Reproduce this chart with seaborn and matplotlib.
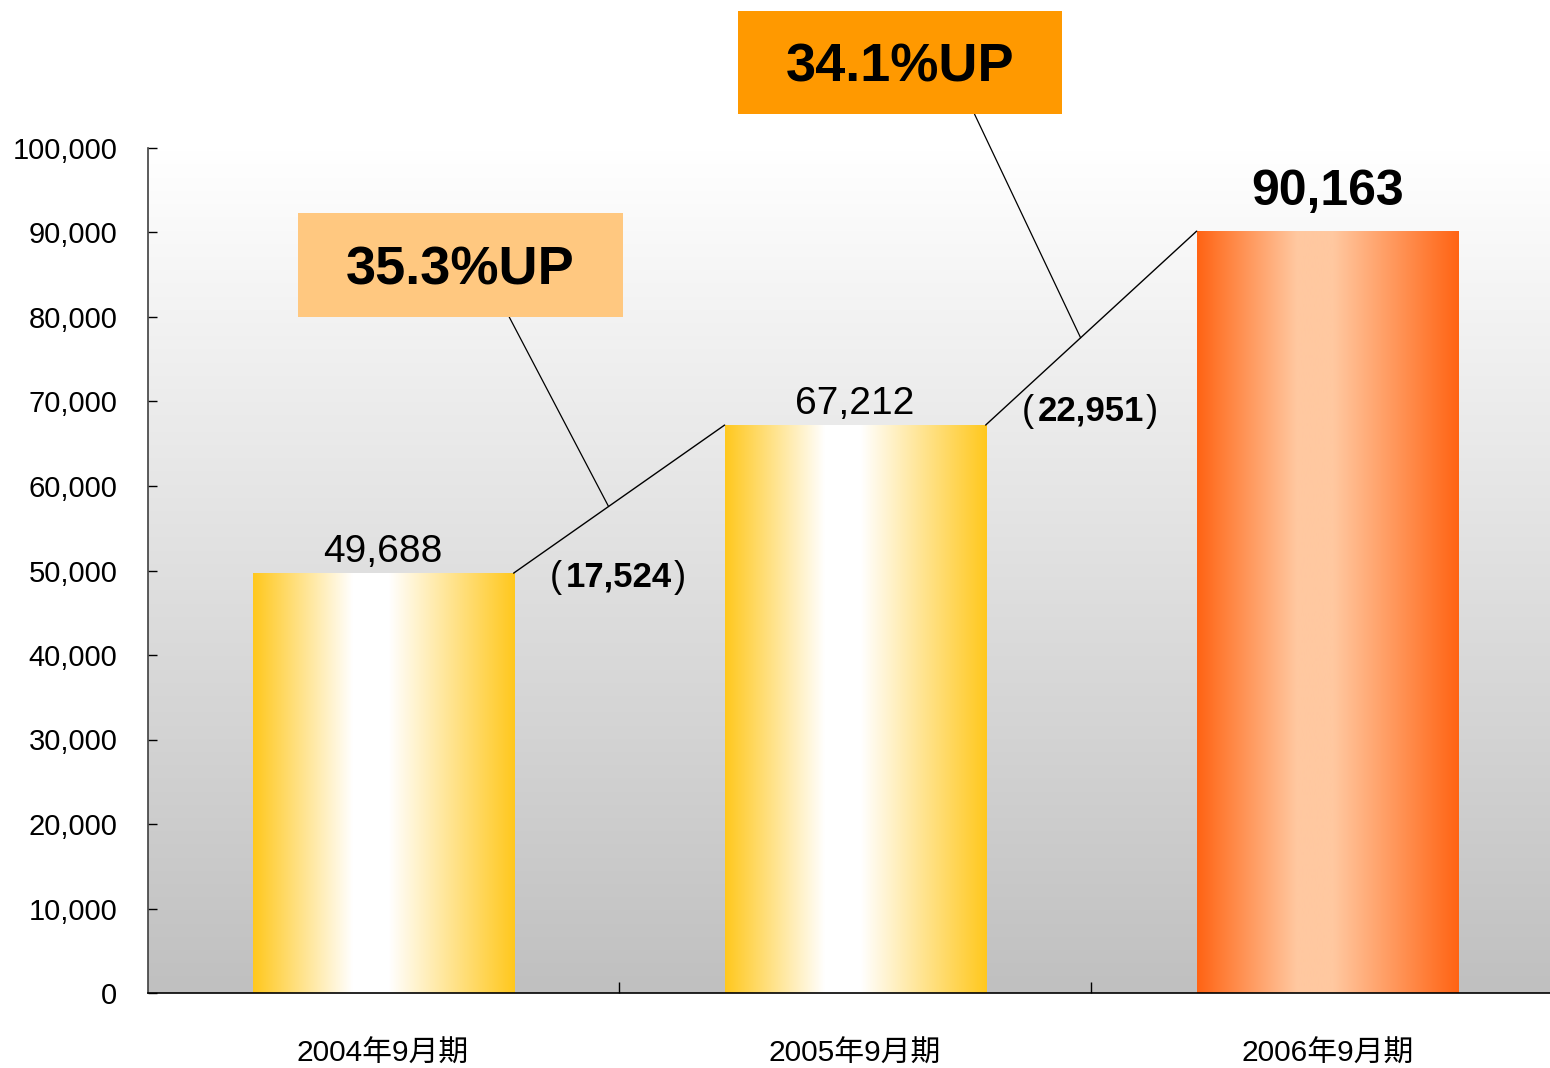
import matplotlib.pyplot as plt
import numpy as np
import seaborn as sns
from matplotlib.colors import LinearSegmentedColormap, to_rgb
from matplotlib.patches import Rectangle
from matplotlib.ticker import FuncFormatter

periods = ["2004年9月期", "2005年9月期", "2006年9月期"]
sales = [49688, 67212, 90163]
growth_labels = ["35.3%UP", "34.1%UP"]
y_ticks = [0, 10000, 20000, 30000, 40000, 50000, 60000, 70000, 80000, 90000, 100000]

sns.set_theme(style="white")
plt.rcParams["font.family"] = ["Liberation Sans", "Noto Sans CJK JP", "DejaVu Sans"]

W, H = 1550, 1068
fig = plt.figure(figsize=(W / 100, H / 100), dpi=100)
ax = fig.add_axes([148 / W, 1 - 993 / H, 1 - 148 / W, (993 - 148) / H])

x_lo, x_hi = -0.498, 2.472
y_hi = 100000

# background gradient, white at top to gray at bottom
bg_cmap = LinearSegmentedColormap.from_list("bg", ["#ffffff", "#c0c0c0"])
ax.imshow(np.linspace(0, 1, 256)[:, None], extent=[x_lo, x_hi, 0, y_hi],
          aspect="auto", cmap=bg_cmap, origin="upper", zorder=0)

sns.barplot(x=periods, y=sales, width=0.553, color="#ffc81e", ax=ax, zorder=2)

bar_styles = [
    ("#ffc81e", "#ffffff"),
    ("#ffc81e", "#ffffff"),
    ("#ff6414", "#ffc8a0"),
]
patches = list(ax.patches)
for patch, (edge, mid) in zip(patches, bar_styles):
    x0, w, h = patch.get_x(), patch.get_width(), patch.get_height()
    patch.set_visible(False)
    e, m = np.array(to_rgb(edge)), np.array(to_rgb(mid))
    pos = np.linspace(0, 1, 200)
    t = np.interp(pos, [0, 0.38, 0.52, 1], [0, 1, 1, 0])
    grad = e[None, :] * (1 - t[:, None]) + m[None, :] * t[:, None]
    ax.imshow(grad[None, :, :], extent=[x0, x0 + w, 0, h], aspect="auto",
              zorder=2, interpolation="bilinear")

# value labels
for i, (patch, v) in enumerate(zip(patches, sales)):
    cx = patch.get_x() + patch.get_width() / 2
    last = i == len(sales) - 1
    ax.annotate(f"{v:,}", (cx, v), xytext=(0, 19 if last else 8),
                textcoords="offset points", ha="center", va="baseline",
                fontsize=36 if last else 28,
                fontweight="bold" if last else "normal", color="black", zorder=5)

# connecting lines, difference labels, growth boxes
diff_pos = [(0.5, 49700), (1.5, 69300)]
boxes = [(-0.180, 0.508, 80000, 92308, "#ffc880", 0.65),
         (0.752, 1.438, 104024, 116213, "#ff9900", 0.73)]
for i in range(len(sales) - 1):
    a, b = patches[i], patches[i + 1]
    xa, ya = a.get_x() + a.get_width(), sales[i]
    xb, yb = b.get_x(), sales[i + 1]
    ax.plot([xa, xb], [ya, yb], color="black", lw=1, zorder=4, clip_on=False)
    diff = sales[i + 1] - sales[i]
    dx, dy = diff_pos[i]
    ax.text(dx, dy, f"{diff:,}", ha="center", va="center_baseline",
            fontsize=25, fontweight="bold", color="black", zorder=5)
    ax.annotate("(", (dx, dy), xytext=(-45.5, 0), textcoords="offset points",
                ha="center", va="center_baseline", fontsize=26, color="black",
                zorder=5)
    ax.annotate(")", (dx, dy), xytext=(44, 0), textcoords="offset points",
                ha="center", va="center_baseline", fontsize=26, color="black",
                zorder=5)
    bx0, bx1, by0, by1, bc, frac = boxes[i]
    ax.add_patch(Rectangle((bx0, by0), bx1 - bx0, by1 - by0, facecolor=bc,
                           edgecolor="none", clip_on=False, zorder=6))
    ax.text((bx0 + bx1) / 2, (by0 + by1) / 2, growth_labels[i], ha="center",
            va="center_baseline", fontsize=39, fontweight="bold",
            color="black", zorder=7, clip_on=False)
    t = 0.45
    px, py = xa + (xb - xa) * t, ya + (yb - ya) * t
    ax.plot([bx0 + (bx1 - bx0) * frac, px], [by0, py], color="black", lw=0.9,
            zorder=4, clip_on=False)

ax.set_xlim(x_lo, x_hi)
ax.set_ylim(0, y_hi)
ax.set_yticks(y_ticks)
ax.yaxis.set_major_formatter(FuncFormatter(lambda v, _: f"{int(v):,}"))
ax.tick_params(axis="y", direction="in", length=6.5, width=1, pad=22,
               labelsize=21, colors="black", left=True)
ax.set_xticks(range(len(periods)))
ax.set_xticklabels(periods)
ax.set_xticks([0.5, 1.5], minor=True)
ax.tick_params(axis="x", which="major", length=0, pad=34, labelsize=21.5,
               colors="black")
ax.tick_params(axis="x", which="minor", direction="in", length=8, width=1,
               bottom=True, color="black")
ax.set_xlabel("")
ax.set_ylabel("")
ax.grid(False)
for side in ("top", "right"):
    ax.spines[side].set_visible(False)
ax.spines["left"].set_color("#404040")
ax.spines["bottom"].set_color("black")
for s in ("left", "bottom"):
    ax.spines[s].set_linewidth(1.2)
    ax.spines[s].set_zorder(8)

fig.savefig("out.png", dpi=100)
